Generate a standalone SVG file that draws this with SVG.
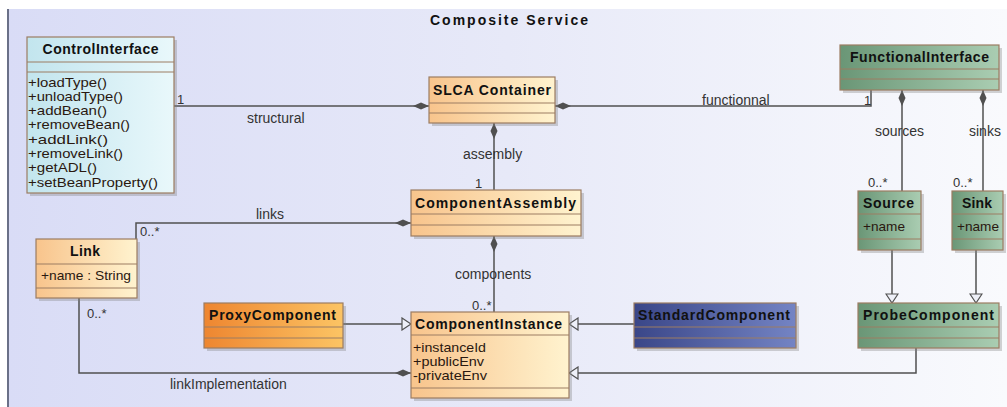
<svg xmlns="http://www.w3.org/2000/svg" width="1007" height="407" viewBox="0 0 1007 407">
<defs>
<linearGradient id="bg" x1="0" y1="0" x2="1" y2="0">
<stop offset="0" stop-color="#d9dcf6"/><stop offset="0.5" stop-color="#e7e9f8"/><stop offset="1" stop-color="#f9fafd"/>
</linearGradient>
<linearGradient id="gCyan" x1="0" y1="0" x2="1" y2="0">
<stop offset="0" stop-color="#c2e5ee"/><stop offset="1" stop-color="#e9f8fb"/>
</linearGradient>
<linearGradient id="gOrange" x1="0" y1="0" x2="1" y2="0">
<stop offset="0" stop-color="#f8c48c"/><stop offset="1" stop-color="#fff3cf"/>
</linearGradient>
<linearGradient id="gProxy" x1="0" y1="0" x2="1" y2="0">
<stop offset="0" stop-color="#ee8630"/><stop offset="1" stop-color="#fcc464"/>
</linearGradient>
<linearGradient id="gBlue" x1="0" y1="0" x2="1" y2="0">
<stop offset="0" stop-color="#3a4688"/><stop offset="1" stop-color="#7484c4"/>
</linearGradient>
<linearGradient id="gGreen" x1="0" y1="0" x2="1" y2="0">
<stop offset="0" stop-color="#6a9676"/><stop offset="1" stop-color="#aacdb2"/>
</linearGradient>
<marker id="diamond" viewBox="0 -4 17 8" markerWidth="17" markerHeight="8" refX="0" refY="0" orient="auto" markerUnits="userSpaceOnUse">
<path d="M0,0 L8,-3.5 L16,0 L8,3.5 Z" fill="#505050"/>
</marker>
<marker id="tri" viewBox="0 -7 11 14" markerWidth="11" markerHeight="14" refX="10" refY="0" orient="auto" markerUnits="userSpaceOnUse">
<path d="M1,-6 L10,0 L1,6 Z" fill="#eef0f8" stroke="#505050" stroke-width="1.2"/>
</marker>
</defs>
<style>
.shadow{fill:#808080;opacity:0.35}
.box{stroke:#9c7c62;stroke-width:1.2}
.sep{stroke:#9c7c62;stroke-width:1}
.hdr{font-family:"Liberation Sans",Arial,sans-serif;font-weight:bold;font-size:14px;fill:#111;text-anchor:middle}
.att{font-family:"Liberation Sans",Arial,sans-serif;font-size:13px;fill:#2a1810}
.lbl{font-family:"Liberation Sans",Arial,sans-serif;font-size:14px;fill:#333}
.mul{font-family:"Liberation Sans",Arial,sans-serif;font-size:13px;fill:#333}
.conn{fill:none;stroke:#505050;stroke-width:1.5}
</style>
<rect x="0" y="0" width="1007" height="407" fill="#ffffff"/>
<rect x="8" y="9" width="999" height="398" fill="url(#bg)"/>
<line x1="8" y1="9" x2="8" y2="407" stroke="#6a7088" stroke-width="2"/>
<text x="509" y="25" class="hdr" font-size="17" textLength="158" lengthAdjust="spacing">Composite Service</text>

<g id="connectors">
<path class="conn" d="M429,106 L174,106" marker-start="url(#diamond)"/>
<path class="conn" d="M555,106 L871,106 L871,90" marker-start="url(#diamond)"/>
<path class="conn" d="M494,123 L494,190" marker-start="url(#diamond)"/>
<path class="conn" d="M411,223 L136,223 L136,239" marker-start="url(#diamond)"/>
<path class="conn" d="M494,236 L494,312" marker-start="url(#diamond)"/>
<path class="conn" d="M411,373 L79,373 L79,298" marker-start="url(#diamond)"/>
<path class="conn" d="M902,90 L902,191" marker-start="url(#diamond)"/>
<path class="conn" d="M983,90 L983,191" marker-start="url(#diamond)"/>
<path class="conn" d="M343,324 L411,324" marker-end="url(#tri)"/>
<path class="conn" d="M634,324 L569,324" marker-end="url(#tri)"/>
<path class="conn" d="M916,348 L916,373 L569,373" marker-end="url(#tri)"/>
<path class="conn" d="M892,250 L892,303" marker-end="url(#tri)"/>
<path class="conn" d="M976,250 L976,303" marker-end="url(#tri)"/>
<text class="mul" x="177" y="104">1</text>
<text class="lbl" x="247" y="123">structural</text>
<text class="lbl" x="702" y="105">functionnal</text>
<text class="mul" x="864" y="105">1</text>
<text class="lbl" x="463" y="159">assembly</text>
<text class="mul" x="475" y="188">1</text>
<text class="lbl" x="875" y="136">sources</text>
<text class="lbl" x="969" y="136">sinks</text>
<text class="mul" x="868" y="187">0..*</text>
<text class="mul" x="953" y="187">0..*</text>
<text class="lbl" x="256" y="219">links</text>
<text class="mul" x="140" y="236">0..*</text>
<text class="lbl" x="455" y="279">components</text>
<text class="mul" x="472" y="310">0..*</text>
<text class="mul" x="87" y="318">0..*</text>
<text class="lbl" x="170" y="389">linkImplementation</text>
</g>

<g id="ControlInterface">
<rect class="shadow" x="30" y="40" width="147" height="156"/>
<rect class="box" x="27" y="37" width="147" height="156" fill="url(#gCyan)"/>
<line class="sep" x1="27" y1="62" x2="174" y2="62"/>
<line class="sep" x1="27" y1="72" x2="174" y2="72"/>
<text class="hdr" x="100.5" y="54" textLength="116" lengthAdjust="spacing">ControlInterface</text>
<text class="att" x="28" y="86.5" textLength="79" lengthAdjust="spacingAndGlyphs">+loadType()</text>
<text class="att" x="28" y="100.8" textLength="95" lengthAdjust="spacingAndGlyphs">+unloadType()</text>
<text class="att" x="28" y="115" textLength="79" lengthAdjust="spacingAndGlyphs">+addBean()</text>
<text class="att" x="28" y="129.3" textLength="102" lengthAdjust="spacingAndGlyphs">+removeBean()</text>
<text class="att" x="28" y="143.6" textLength="80" lengthAdjust="spacingAndGlyphs">+addLink()</text>
<text class="att" x="28" y="157.9" textLength="95" lengthAdjust="spacingAndGlyphs">+removeLink()</text>
<text class="att" x="28" y="172.2" textLength="69" lengthAdjust="spacingAndGlyphs">+getADL()</text>
<text class="att" x="28" y="186.5" textLength="130" lengthAdjust="spacingAndGlyphs">+setBeanProperty()</text>
</g>

<g id="SLCAContainer">
<rect class="shadow" x="432" y="80" width="126" height="46"/>
<rect class="box" x="429" y="77" width="126" height="46" fill="url(#gOrange)"/>
<line class="sep" x1="429" y1="103" x2="555" y2="103"/>
<line class="sep" x1="429" y1="113" x2="555" y2="113"/>
<text class="hdr" x="492" y="94.5" textLength="118" lengthAdjust="spacing">SLCA Container</text>
</g>

<g id="FunctionalInterface">
<rect class="shadow" x="843" y="48" width="159" height="45"/>
<rect class="box" x="840" y="45" width="159" height="45" fill="url(#gGreen)"/>
<line class="sep" x1="840" y1="69" x2="999" y2="69"/>
<line class="sep" x1="840" y1="79" x2="999" y2="79"/>
<text class="hdr" x="919.5" y="62" textLength="139" lengthAdjust="spacing">FunctionalInterface</text>
</g>

<g id="ComponentAssembly">
<rect class="shadow" x="414" y="193" width="170" height="46"/>
<rect class="box" x="411" y="190" width="170" height="46" fill="url(#gOrange)"/>
<line class="sep" x1="411" y1="214" x2="581" y2="214"/>
<line class="sep" x1="411" y1="225" x2="581" y2="225"/>
<text class="hdr" x="495.5" y="207.5" textLength="161" lengthAdjust="spacing">ComponentAssembly</text>
</g>

<g id="Link">
<rect class="shadow" x="39" y="242" width="101" height="59"/>
<rect class="box" x="36" y="239" width="101" height="59" fill="url(#gOrange)"/>
<line class="sep" x1="36" y1="264" x2="137" y2="264"/>
<line class="sep" x1="36" y1="288" x2="137" y2="288"/>
<text class="hdr" x="85" y="255.5" textLength="30" lengthAdjust="spacing">Link</text>
<text class="att" x="41" y="280" textLength="90" lengthAdjust="spacingAndGlyphs">+name : String</text>
</g>

<g id="ProxyComponent">
<rect class="shadow" x="207" y="306" width="139" height="45"/>
<rect class="box" x="204" y="303" width="139" height="45" fill="url(#gProxy)"/>
<line class="sep" x1="204" y1="327" x2="343" y2="327"/>
<line class="sep" x1="204" y1="338" x2="343" y2="338"/>
<text class="hdr" x="272.5" y="319.5" textLength="127" lengthAdjust="spacing">ProxyComponent</text>
</g>

<g id="ComponentInstance">
<rect class="shadow" x="414" y="315" width="158" height="86"/>
<rect class="box" x="411" y="312" width="158" height="86" fill="url(#gOrange)"/>
<line class="sep" x1="411" y1="335" x2="569" y2="335"/>
<line class="sep" x1="411" y1="388" x2="569" y2="388"/>
<text class="hdr" x="488.5" y="328.5" textLength="147" lengthAdjust="spacing">ComponentInstance</text>
<text class="att" x="413" y="352" textLength="73" lengthAdjust="spacingAndGlyphs">+instanceId</text>
<text class="att" x="413" y="366" textLength="71" lengthAdjust="spacingAndGlyphs">+publicEnv</text>
<text class="att" x="413" y="380" textLength="74" lengthAdjust="spacingAndGlyphs">-privateEnv</text>
</g>

<g id="StandardComponent">
<rect class="shadow" x="637" y="306" width="162" height="45"/>
<rect class="box" x="634" y="303" width="162" height="45" fill="url(#gBlue)"/>
<line class="sep" x1="634" y1="327" x2="796" y2="327"/>
<line class="sep" x1="634" y1="338" x2="796" y2="338"/>
<text class="hdr" x="714" y="319.5" textLength="152" lengthAdjust="spacing">StandardComponent</text>
</g>

<g id="Source">
<rect class="shadow" x="861" y="194" width="63" height="59"/>
<rect class="box" x="858" y="191" width="63" height="59" fill="url(#gGreen)"/>
<line class="sep" x1="858" y1="214" x2="921" y2="214"/>
<line class="sep" x1="858" y1="239" x2="921" y2="239"/>
<text class="hdr" x="888.5" y="207.5" textLength="51" lengthAdjust="spacing">Source</text>
<text class="att" x="863" y="231" fill="#3a0a0a" textLength="42" lengthAdjust="spacingAndGlyphs">+name</text>
</g>

<g id="Sink">
<rect class="shadow" x="955" y="194" width="51" height="59"/>
<rect class="box" x="952" y="191" width="51" height="59" fill="url(#gGreen)"/>
<line class="sep" x1="952" y1="214" x2="1003" y2="214"/>
<line class="sep" x1="952" y1="239" x2="1003" y2="239"/>
<text class="hdr" x="977" y="207.5" textLength="30" lengthAdjust="spacing">Sink</text>
<text class="att" x="957" y="231" fill="#3a0a0a" textLength="42" lengthAdjust="spacingAndGlyphs">+name</text>
</g>

<g id="ProbeComponent">
<rect class="shadow" x="861" y="306" width="141" height="45"/>
<rect class="box" x="858" y="303" width="141" height="45" fill="url(#gGreen)"/>
<line class="sep" x1="858" y1="327" x2="999" y2="327"/>
<line class="sep" x1="858" y1="338" x2="999" y2="338"/>
<text class="hdr" x="928.5" y="319.5" textLength="131" lengthAdjust="spacing">ProbeComponent</text>
</g>
</svg>
